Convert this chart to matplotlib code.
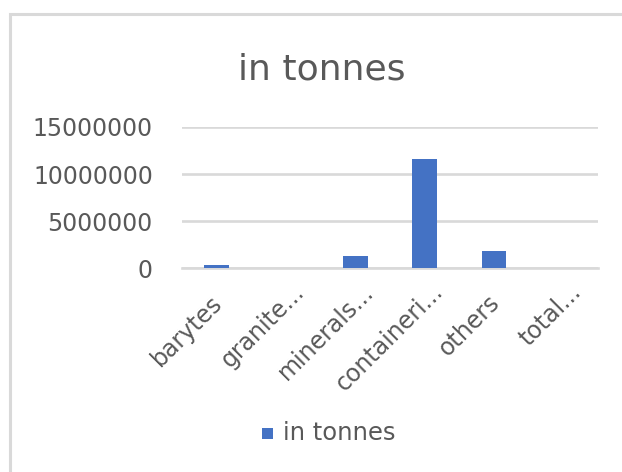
import matplotlib
matplotlib.use("Agg")
import matplotlib.pyplot as plt
from matplotlib.patches import Rectangle
from matplotlib.transforms import ScaledTranslation

categories = ["barytes", "granite...", "minerals...", "containeri...", "others", "total..."]
values = [350000, 0, 1250000, 11550000, 1850000, 0]
yticks = [0, 5000000, 10000000, 15000000]
series_name = "in tonnes"
title = "in tonnes"

W, H = 622, 472
fig = plt.figure(figsize=(W / 100, H / 100), dpi=100)
fig.patch.set_facecolor("white")

plt.rcParams["font.family"] = ["DejaVu Sans"]
TXT = "#595959"
GRID = "#d9d9d9"
BAR = "#4472C4"

# chart border (right/bottom edges fall outside the image)
fig.add_artist(Rectangle((10 / W, -0.2), 1.5, 1 - 14 / H + 0.2, transform=fig.transFigure,
                         facecolor="none", edgecolor="#d9d9d9", lw=2.2))

left, right = 182 / W, 598 / W
bottom, top = 1 - 268 / H, 1 - 127 / H
ax = fig.add_axes([left, bottom, right - left, top - bottom])

x = list(range(len(categories)))
ax.bar(x, values, width=0.36, color=BAR, zorder=3)
ax.set_xlim(-0.5, len(categories) - 0.5)
ax.set_ylim(0, 15000000)
ax.set_yticks(yticks)
ax.set_yticklabels([str(v) for v in yticks], fontsize=17, color=TXT)
ax.yaxis.grid(True, color=GRID, lw=1.9, zorder=0)
for s in ["left", "right", "top"]:
    ax.spines[s].set_visible(False)
ax.spines["bottom"].set_color(GRID)
ax.spines["bottom"].set_linewidth(1.9)
ax.tick_params(axis="both", length=0)
ax.tick_params(axis="y", pad=21)
ax.set_xticks(x)
ax.set_xticklabels(categories, rotation=45, ha="right", va="center",
                   rotation_mode="anchor", fontsize=17, color=TXT)
ax.tick_params(axis="x", pad=0)
for lab in ax.get_xticklabels():
    if lab.get_text().endswith("..."):
        dx, dy = 14.5, 20
    else:
        dx, dy = 2, 31
    lab.set_transform(lab.get_transform() +
                      ScaledTranslation(dx / 100, -dy / 100, fig.dpi_scale_trans))

fig.text(322 / W, 1 - 70 / H, title, ha="center", va="center", fontsize=26, color=TXT)

# legend
fig.add_artist(Rectangle((262 / W, 1 - 439 / H), 11 / W, 11 / H, transform=fig.transFigure,
                         facecolor=BAR, edgecolor="none"))
fig.text(283 / W, 1 - 433 / H, series_name, ha="left", va="center", fontsize=17.5, color=TXT)

fig.savefig("out.png", dpi=100, facecolor="white")
